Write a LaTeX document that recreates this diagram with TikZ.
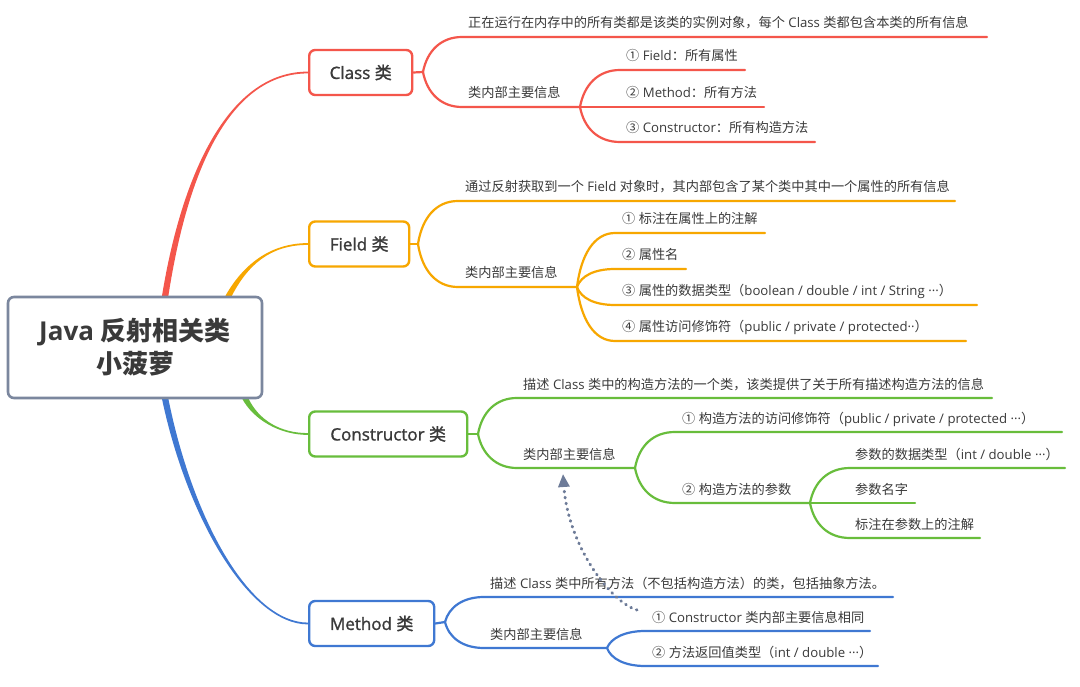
\documentclass[tikz,border=0pt]{standalone}
\usepackage{fontspec}
\setmainfont{Open Sans}
\newfontfamily\cjkR{Noto Sans CJK SC}
\newfontfamily\latR{Open Sans}
\newfontfamily\cjkS{Noto Sans CJK SC}[FakeBold=1.3]
\newfontfamily\latS{Open Sans}[FakeBold=1.3]
\newif\ifsemi
\def\cjkfont{\ifsemi\cjkS\else\cjkR\fi}
\def\latfont{\ifsemi\latS\else\latR\fi}
\usetikzlibrary{arrows.meta,calc}
\XeTeXinterchartokenstate=1
\newXeTeXintercharclass\CJKclass
\newcount\cjkc
\def\setcjkrange#1#2{\cjkc=#1\relax\loop\XeTeXcharclass\cjkc=\CJKclass\relax\advance\cjkc by 1\relax\ifnum\cjkc<#2\repeat}
\setcjkrange{"4E00}{"A000}
\setcjkrange{"3000}{"3040}
\setcjkrange{"FF00}{"FFF0}
\setcjkrange{"2460}{"2500}
\XeTeXinterchartoks 0 \CJKclass = {\cjkfont}
\XeTeXinterchartoks 4095 \CJKclass = {\cjkfont}
\XeTeXinterchartoks \CJKclass 0 = {\latfont}
\XeTeXinterchartoks \CJKclass 4095 = {\latfont}
\definecolor{cred}{HTML}{F4564B}
\definecolor{corange}{HTML}{F7A700}
\definecolor{cgreen}{HTML}{68BD3C}
\definecolor{cblue}{HTML}{3F78D2}
\definecolor{cgray}{HTML}{7B879E}
\definecolor{carrow}{HTML}{6D7B98}
\definecolor{txtc}{HTML}{3A3A3A}
\newcommand\taper[6]{%
 \fill[#1] ($(#2)+(-3.2,0)$) .. controls ($(#3)+(-2.6,0)$) and ($(#4)+(0,-0.9*#6)$) .. ($(#5)+(0,-0.9*#6)$) -- ($(#5)+(0,0.9*#6)$) .. controls ($(#4)+(0,0.9*#6)$) and ($(#3)+(2.6,0)$) .. ($(#2)+(3.2,0)$) -- cycle;}
\begin{document}
\begin{tikzpicture}[x=1pt,y=-1pt,
  txt/.style={anchor=base west, inner sep=0pt, font=\fontsize{13.2}{16}\selectfont, text=txtc},
  mainbox/.style={draw=#1, line width=2.4pt, rounded corners=6pt, fill=white, font=\semitrue\fontsize{17}{20}\selectfont\latS, text=txtc, anchor=west, inner sep=0pt, minimum height=45pt},
  rootbox/.style={draw=cgray, line width=2.6pt, rounded corners=6pt, fill=white, font=\fontsize{26}{33}\selectfont\bfseries, text=txtc, align=center, inner sep=0pt, minimum width=254pt, minimum height=101pt},
  br/.style={draw=#1, line width=2.2pt, line cap=round, line join=round},
  dotarrow/.style={draw=carrow, line width=3pt, line cap=round, dash pattern=on 0.7pt off 5.3pt, -{Triangle[length=13pt,width=11pt,fill=carrow]}}]
\fill[white] (0,0) rectangle (1080,687);
\useasboundingbox (0,0) rectangle (1080,687);

% main nodes
\node[mainbox=cred, minimum width=103pt] (cls) at (308,72.5) {Class 类};
\node[mainbox=corange, minimum width=100pt] (fld) at (308,244) {Field 类};
\node[mainbox=cgreen, minimum width=158pt] (con) at (308,434) {Constructor 类};
\node[mainbox=cblue, minimum width=125pt] (met) at (308,623.5) {Method 类};

% trunks
\coordinate (rA) at (165,297);
\coordinate (rB) at (228,297);
\coordinate (rC) at (245,398);
\coordinate (rD) at (165,398);
\taper{cred}{rA}{185,170}{230,72.5}{cls.west}{1}
\taper{corange}{rB}{245,265}{270,244}{fld.west}{1}
\taper{cgreen}{rC}{256,420}{280,434}{con.west}{-1}
\taper{cblue}{rD}{190,520}{250,623.5}{met.west}{-1}

\node[rootbox] (root) at (135,347.5) {Java 反射相关类\\小菠萝};

% ---- Class branch
\coordinate (c0) at (423,72);
\coordinate (c1) at (580,107);
\draw[br=cred] (cls.east) -- (c0);
\draw[br=cred] (c0) .. controls +(4,-21) and +(-21,0) .. (462,37) -- (987,37);
\draw[br=cred] (c0) .. controls +(4,21) and +(-21,0) .. (462,107) -- (c1);
\draw[br=cred] (c1) .. controls +(4,-22) and +(-22,0) .. (620,70) -- (745,70);
\draw[br=cred] (c1) -- (764,107);
\draw[br=cred] (c1) .. controls +(4,21) and +(-22,0) .. (620,142) -- (815,142);
\node[txt] (cd) at (468,28) {正在运行在内存中的所有类都是该类的实例对象，每个 Class 类都包含本类的所有信息};
\node[txt] (ci) at (468,98) {类内部主要信息};
\node[txt] (ci1) at (626,61) {① Field：所有属性};
\node[txt] (ci2) at (626,98) {② Method：所有方法};
\node[txt] (ci3) at (626,133) {③ Constructor：所有构造方法};

% ---- Field branch
\coordinate (f0) at (418,244);
\coordinate (f1) at (577,287);
\draw[br=corange] (fld.east) -- (f0);
\draw[br=corange] (f0) .. controls +(4,-26) and +(-22,0) .. (458,201) -- (955,201);
\draw[br=corange] (f0) .. controls +(4,26) and +(-22,0) .. (458,287) -- (f1);
\draw[br=corange] (f1) .. controls +(4,-32) and +(-21,0) .. (615,233) -- (765,233);
\draw[br=corange] (f1) .. controls +(4,-11) and +(-21,0) .. (615,269) -- (686,269);
\draw[br=corange] (f1) .. controls +(4,11) and +(-21,0) .. (615,305) -- (977,305);
\draw[br=corange] (f1) .. controls +(4,32) and +(-21,0) .. (615,341) -- (966,341);
\node[txt] (fd) at (465,192) {通过反射获取到一个 Field 对象时，其内部包含了某个类中其中一个属性的所有信息};
\node[txt] (fi) at (465,278) {类内部主要信息};
\node[txt] (fi1) at (622,224) {① 标注在属性上的注解};
\node[txt] (fi2) at (622,260) {② 属性名};
\node[txt] (fi3) at (622,296) {③ 属性的数据类型（boolean / double / int / String ···）};
\node[txt] (fi4) at (622,332) {④ 属性访问修饰符（public / private / protected··）};

% ---- Constructor branch
\coordinate (k0) at (478,434);
\coordinate (k1) at (635,468);
\coordinate (k2) at (810,503);
\draw[br=cgreen] (con.east) -- (k0);
\draw[br=cgreen] (k0) .. controls +(4,-22) and +(-21,0) .. (517,398) -- (992,398);
\draw[br=cgreen] (k0) .. controls +(4,20) and +(-21,0) .. (517,468) -- (k1);
\draw[br=cgreen] (k1) .. controls +(4,-22) and +(-22,0) .. (675,432) -- (1062,432);
\draw[br=cgreen] (k1) .. controls +(4,21) and +(-22,0) .. (675,503) -- (k2);
\draw[br=cgreen] (k2) .. controls +(4,-21) and +(-22,0) .. (850,468) -- (1065,468);
\draw[br=cgreen] (k2) -- (915,503);
\draw[br=cgreen] (k2) .. controls +(4,21) and +(-22,0) .. (850,538) -- (980,538);
\node[txt] (kd) at (523,389) {描述 Class 类中的构造方法的一个类，该类提供了关于所有描述构造方法的信息};
\node[txt] (ki) at (523,459) {类内部主要信息};
\node[txt] (ki1) at (682,423) {① 构造方法的访问修饰符（public / private / protected ···）};
\node[txt] (ki2) at (682,494) {② 构造方法的参数};
\node[txt] (kp1) at (855,459) {参数的数据类型（int / double ···）};
\node[txt] (kp2) at (855,494) {参数名字};
\node[txt] (kp3) at (855,529) {标注在参数上的注解};

% ---- Method branch
\coordinate (m0) at (445,622);
\coordinate (m1) at (607,648);
\draw[br=cblue] (met.east) -- (m0);
\draw[br=cblue] (m0) .. controls +(4,-15) and +(-21,0) .. (484,597) -- (893,597);
\draw[br=cblue] (m0) .. controls +(4,16) and +(-21,0) .. (484,648) -- (m1);
\draw[br=cblue] (m1) .. controls +(4,-10) and +(-20,0) .. (645,631) -- (870,631);
\draw[br=cblue] (m1) .. controls +(4,11) and +(-20,0) .. (645,666) -- (878,666);
\node[txt] (md) at (490,588) {描述 Class 类中所有方法（不包括构造方法）的类，包括抽象方法。};
\node[txt] (mi) at (490,639) {类内部主要信息};
\node[txt] (mi1) at (652,622) {① Constructor 类内部主要信息相同};
\node[txt] (mi2) at (652,657) {② 方法返回值类型（int / double ···）};

% dotted relation arrow
\coordinate (arS) at (637,610);
\coordinate (arE) at (563,474);
\draw[dotarrow] (arS) .. controls (610,602) and (568,545) .. (arE);
\end{tikzpicture}
\end{document}
